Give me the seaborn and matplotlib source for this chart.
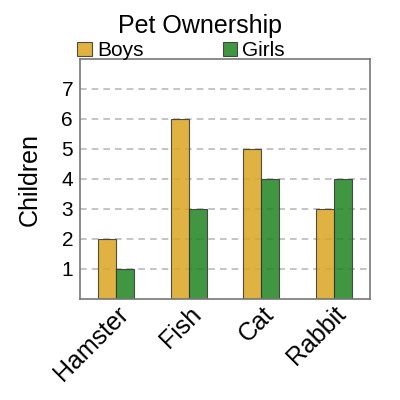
import seaborn as sns
import pandas as pd
import matplotlib.pyplot as plt

pets = ["Hamster", "Fish", "Cat", "Rabbit"]
boys = [2, 6, 5, 3]
girls = [1, 3, 4, 4]
y_ticks = [1, 2, 3, 4, 5, 6, 7]

df = pd.DataFrame({
    "Pet": pets * 2,
    "Children": boys + girls,
    "Group": ["Boys"] * len(pets) + ["Girls"] * len(pets),
})

sns.set_style("white")
plt.rcParams["font.family"] = ["Liberation Sans", "DejaVu Sans"]
plt.rcParams["text.color"] = "black"
plt.rcParams["axes.labelcolor"] = "black"
plt.rcParams["xtick.color"] = "black"
plt.rcParams["ytick.color"] = "black"

fig = plt.figure(figsize=(4, 4), dpi=100)
ax = fig.add_axes([0.2, 0.2525, 0.725, 0.6])

ax.yaxis.grid(True, color="#bbbbbb", linestyle=(0, (4, 3)), linewidth=1.2)
ax.set_axisbelow(True)

sns.barplot(data=df, x="Pet", y="Children", hue="Group",
            palette={"Boys": "#daa520", "Girls": "#1f841f"}, saturation=1,
            width=0.5, alpha=0.85, edgecolor="#333333", linewidth=0.8,
            ax=ax)

ax.set_ylim(0, 8)
ax.set_xlim(-0.5, 3.5)
ax.set_yticks(y_ticks)
ax.tick_params(axis="y", labelsize=15, length=0, pad=5)
ax.tick_params(axis="x", labelsize=18, length=0, pad=2)
plt.setp(ax.get_xticklabels(), rotation=45, ha="right", rotation_mode="anchor")
ax.set_xlabel("")
ax.set_ylabel("Children", fontsize=18, labelpad=14)

for s in ax.spines.values():
    s.set_color("#777777")
    s.set_linewidth(1.2)

fig.suptitle("Pet Ownership", fontsize=18, y=0.965)
ax.legend(loc="lower left", bbox_to_anchor=(-0.01, 0.995), ncol=2, frameon=False,
          fontsize=15, handlelength=0.7, handleheight=0.7, handletextpad=0.25,
          columnspacing=3.8, borderpad=0, borderaxespad=0)

fig.savefig("out.png")
